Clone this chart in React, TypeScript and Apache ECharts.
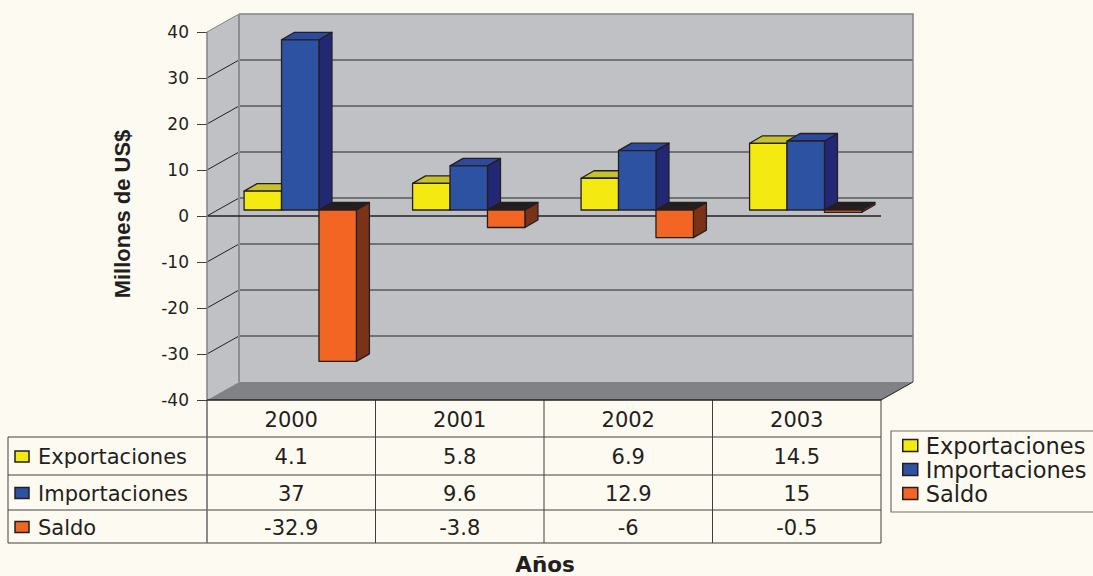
import React, { useEffect, useRef } from "react";
import * as echarts from "echarts";

const years = ["2000", "2001", "2002", "2003"];
const seriesNames = ["Exportaciones", "Importaciones", "Saldo"];
const exportaciones = [4.1, 5.8, 6.9, 14.5];
const importaciones = [37, 9.6, 12.9, 15];
const saldo = [-32.9, -3.8, -6, -0.5];
const yTicks = [-40, -30, -20, -10, 0, 10, 20, 30, 40];
const yTitle = "Millones de US$";
const xTitle = "Años";

const seriesValues = [exportaciones, importaciones, saldo];

const FRONT = ["#F4EA12", "#2E52A2", "#F26522"];
const TOP = ["#C5C22C", "#2B4AA0", "#231F20"];
const SIDE = ["#8C8714", "#232874", "#7B3317"];
const INK = "#231F20";
const BG = "#FDFAF1";
const WALL = "#C0C1C4";
const FLOOR = "#808285";

const GRID_LEFT = 207;
const GRID_TOP = 32;
const GRID_W = 674;
const GRID_H = 368;
const DEPTH = [32, -18];
const BAR_OFF = [9, -6];
const BAR_DEPTH = [13, -7.5];

const TXT = "DejaVu Sans";
const TABLE_FS = 21;

function wallsRender(params: any, api: any) {
  const cs = params.coordSys;
  const x0 = cs.x;
  const x1 = cs.x + cs.width;
  const yT = cs.y;
  const yB = cs.y + cs.height;
  const [dx, dy] = DEPTH;
  const children: any[] = [];
  children.push({
    type: "polygon",
    shape: { points: [[x0, yT], [x0 + dx, yT + dy], [x0 + dx, yB + dy], [x0, yB]] },
    style: { fill: WALL },
  });
  children.push({
    type: "rect",
    shape: { x: x0 + dx, y: yT + dy, width: cs.width, height: cs.height },
    style: { fill: WALL },
  });
  children.push({
    type: "polygon",
    shape: { points: [[x0, yB], [x1, yB], [x1 + dx, yB + dy], [x0 + dx, yB + dy]] },
    style: { fill: FLOOR },
  });
  yTicks.forEach((v) => {
    if (v === yTicks[0]) return;
    const y = api.coord([0, v])[1];
    if (v !== yTicks[yTicks.length - 1]) {
      children.push({
        type: "line",
        shape: { x1: x0 + dx, y1: y + dy, x2: x1 + dx, y2: y + dy },
        style: { stroke: "#58595B", lineWidth: 1.3 },
      });
    }
    children.push({
      type: "line",
      shape: { x1: x0, y1: y, x2: x0 + dx, y2: y + dy },
      style: { stroke: v === yTicks[yTicks.length - 1] ? "#808285" : INK, lineWidth: 1 },
    });
  });
  children.push({
    type: "polyline",
    shape: { points: [[x0 + dx, yT + dy], [x1 + dx, yT + dy], [x1 + dx, yB + dy]] },
    style: { stroke: "#808285", lineWidth: 1.5, fill: null },
  });
  children.push({
    type: "line",
    shape: { x1: x0 + dx, y1: yT + dy, x2: x0 + dx, y2: yB + dy },
    style: { stroke: "#8D8E91", lineWidth: 2 },
  });
  children.push({
    type: "line",
    shape: { x1: x1, y1: yB, x2: x1 + dx, y2: yB + dy },
    style: { stroke: INK, lineWidth: 1 },
  });
  const y0 = api.coord([0, 0])[1];
  children.push({
    type: "line",
    shape: { x1: x0, y1: y0, x2: x1, y2: y0 },
    style: { stroke: INK, lineWidth: 1.5 },
  });
  children.push({
    type: "line",
    shape: { x1: x0, y1: yT, x2: x0, y2: yB },
    style: { stroke: "#808285", lineWidth: 1.5 },
  });
  children.push({
    type: "line",
    shape: { x1: x0, y1: yB, x2: x1, y2: yB },
    style: { stroke: INK, lineWidth: 1.3 },
  });
  return { type: "group", children };
}

function makeBarRender(s: number) {
  return function (params: any, api: any) {
    const i = api.value(0);
    const v = api.value(1);
    const c = api.coord([i, v]);
    const z = api.coord([i, 0]);
    const catW = api.size([1, 0])[0];
    const bw = catW / 4.5;
    const xa = c[0] - 1.5 * bw + s * bw + BAR_OFF[0];
    const xb = xa + bw;
    const yv = c[1] + BAR_OFF[1];
    const y0 = z[1] + BAR_OFF[1];
    const top = Math.min(yv, y0);
    const bot = Math.max(yv, y0);
    const [ddx, ddy] = BAR_DEPTH;
    const stroke = { stroke: INK, lineWidth: 1.3, lineJoin: "round" };
    return {
      type: "group",
      children: [
        {
          type: "polygon",
          shape: { points: [[xb, top], [xb + ddx, top + ddy], [xb + ddx, bot + ddy], [xb, bot]] },
          style: { fill: SIDE[s], ...stroke },
        },
        {
          type: "polygon",
          shape: { points: [[xa, top], [xa + ddx, top + ddy], [xb + ddx, top + ddy], [xb, top]] },
          style: { fill: v >= 0 ? TOP[s] : INK, ...stroke },
        },
        {
          type: "rect",
          shape: { x: xa, y: top, width: bw, height: Math.max(bot - top, 0.5) },
          style: { fill: FRONT[s], ...stroke },
        },
      ],
    };
  };
}

function buildTable(): any[] {
  const els: any[] = [];
  const rows = [400, 437, 475, 510, 543];
  const colW = GRID_W / years.length;
  const cols = years.map((_, i) => GRID_LEFT + i * colW).concat([GRID_LEFT + GRID_W]);
  const L = 8;
  const line = (x1: number, y1: number, x2: number, y2: number, stroke = "#404041", w = 1) =>
    els.push({ type: "line", shape: { x1, y1, x2, y2 }, style: { stroke, lineWidth: w } });
  line(L, rows[1], cols[cols.length - 1], rows[1]);
  line(L, rows[2], cols[cols.length - 1], rows[2]);
  line(L, rows[3], cols[cols.length - 1], rows[3]);
  line(L, rows[4], cols[cols.length - 1], rows[4]);
  line(L, rows[1], L, rows[4]);
  cols.forEach((x, k) => line(x, rows[0], x, rows[4], k === 0 ? "#6D6E71" : "#404041", k === 0 ? 1.6 : 1));
  years.forEach((yr, i) => {
    els.push({
      type: "text",
      x: (cols[i] + cols[i + 1]) / 2,
      y: (rows[0] + rows[1]) / 2 + 1,
      style: { text: yr, fontFamily: TXT, fontSize: TABLE_FS, fill: INK, align: "center", verticalAlign: "middle" },
    });
  });
  seriesNames.forEach((name, s) => {
    const mid = (rows[s + 1] + rows[s + 2]) / 2 + 1;
    els.push({
      type: "rect",
      shape: { x: 15, y: mid - 6, width: 14, height: 11 },
      style: { fill: FRONT[s], stroke: INK, lineWidth: 1.5 },
    });
    els.push({
      type: "text",
      x: 38,
      y: mid,
      style: { text: name, fontFamily: TXT, fontSize: TABLE_FS, fill: INK, align: "left", verticalAlign: "middle" },
    });
    seriesValues[s].forEach((v, i) => {
      els.push({
        type: "text",
        x: (cols[i] + cols[i + 1]) / 2,
        y: mid,
        style: { text: String(v), fontFamily: TXT, fontSize: TABLE_FS, fill: INK, align: "center", verticalAlign: "middle" },
      });
    });
  });
  els.push({
    type: "text",
    x: 122,
    y: 214,
    rotation: Math.PI / 2,
    style: {
      text: yTitle,
      fontFamily: "Liberation Sans",
      fontWeight: "bold",
      fontSize: 22,
      fill: INK,
      align: "center",
      verticalAlign: "middle",
    },
  });
  els.push({
    type: "text",
    x: 545,
    y: 564,
    style: {
      text: xTitle,
      fontFamily: TXT,
      fontWeight: "bold",
      fontSize: 21.5,
      fill: INK,
      align: "center",
      verticalAlign: "middle",
    },
  });
  return els;
}

export default function App() {
  const ref = useRef<HTMLDivElement>(null);
  useEffect(() => {
    if (!ref.current) return;
    const chart = echarts.init(ref.current, undefined, { renderer: "svg" });
    const option: any = {
      animation: false,
      backgroundColor: BG,
      color: FRONT,
      grid: { left: GRID_LEFT, top: GRID_TOP, width: GRID_W, height: GRID_H },
      xAxis: { type: "category", data: years, show: false },
      yAxis: {
        type: "value",
        min: -40,
        max: 40,
        interval: 10,
        axisLine: { show: false },
        axisTick: { show: true, length: 10, lineStyle: { color: "#404041", width: 1 } },
        axisLabel: { fontFamily: TXT, fontSize: 17, color: INK, margin: 18 },
        splitLine: { show: false },
      },
      legend: {
        data: seriesNames,
        orient: "vertical",
        left: 891,
        top: 431,
        itemWidth: 15,
        itemHeight: 12,
        itemGap: 1,
        icon: "rect",
        padding: [3, 30, 7, 11],
        borderColor: "#6D6E71",
        borderWidth: 1.2,
        selectedMode: false,
        itemStyle: { borderColor: INK, borderWidth: 1.5 },
        textStyle: { fontFamily: TXT, fontSize: 22.5, color: INK, lineHeight: 22, padding: [0, 0, 0, 3] },
      },
      graphic: buildTable(),
      series: [
        {
          type: "custom",
          name: "walls",
          z: 1,
          silent: true,
          renderItem: wallsRender,
          data: [[0, 0]],
          encode: { x: 0, y: 1 },
        },
        ...seriesNames.map((name, s) => ({
          type: "custom",
          name,
          z: 2,
          itemStyle: { color: FRONT[s] },
          renderItem: makeBarRender(s),
          data: seriesValues[s].map((v, i) => [i, v]),
          encode: { x: 0, y: 1 },
        })),
      ],
    };
    chart.setOption(option);
    return () => chart.dispose();
  }, []);
  return (
    <div
      ref={ref}
      style={{ position: "fixed", left: 0, top: 0, width: 1093, height: 576, background: BG }}
    />
  );
}
